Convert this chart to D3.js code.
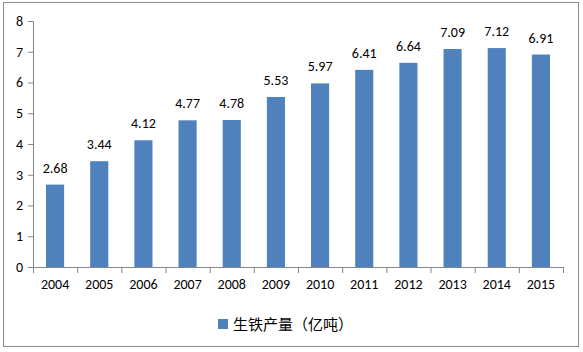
<!DOCTYPE html>
<html>
<head>
<meta charset="utf-8">
<script src="https://cdnjs.cloudflare.com/ajax/libs/d3/7.8.5/d3.min.js"></script>
<style>
  body { margin: 0; background: #fff; }
  svg text { font-family: Calibri, Carlito, Lato, "Noto Sans CJK SC", sans-serif; }
</style>
</head>
<body>
<div id="chart"></div>
<script>
const years = ['2004', '2005', '2006', '2007', '2008', '2009', '2010', '2011', '2012', '2013', '2014', '2015'];
const output = [2.68, 3.44, 4.12, 4.77, 4.78, 5.53, 5.97, 6.41, 6.64, 7.09, 7.12, 6.91];
const yTicks = [0, 1, 2, 3, 4, 5, 6, 7, 8];
const seriesName = '生铁产量（亿吨）';

const W = 583, H = 352;
const margin = {left: 33, right: 20, top: 21, bottom: 85};

const svg = d3.select('#chart').append('svg')
    .attr('width', W)
    .attr('height', H);

// outer frame
svg.append('rect')
    .attr('x', 3.5).attr('y', 2.5)
    .attr('width', 575).attr('height', 344)
    .attr('fill', '#fff')
    .attr('stroke', '#8c8c8c');

const x = d3.scaleBand().domain(years).range([margin.left, W - margin.right]).paddingInner(0.59).paddingOuter(0.295);
const y = d3.scaleLinear().domain([0, 8]).range([H - margin.bottom, margin.top]);

// bars
svg.selectAll('.bar').data(output).join('rect')
    .attr('class', 'bar')
    .attr('x', (d, i) => x(years[i]))
    .attr('y', d => y(d))
    .attr('width', x.bandwidth())
    .attr('height', d => y(0) - y(d))
    .attr('fill', '#4f81bd');

// value labels
svg.selectAll('.val').data(output).join('text')
    .attr('class', 'val')
    .attr('x', (d, i) => x(years[i]) + x.bandwidth() / 2)
    .attr('y', d => y(d) - 12)
    .attr('text-anchor', 'middle')
    .attr('font-size', 14)
    .attr('fill', '#000')
    .text(d => d.toFixed(2));

// y axis
const yAxis = svg.append('g')
    .attr('transform', `translate(${margin.left},0)`)
    .call(d3.axisLeft(y).tickValues(yTicks).tickSize(5).tickPadding(5));
yAxis.selectAll('line, path').attr('stroke', '#868686');
yAxis.selectAll('text').attr('font-size', 14).attr('fill', '#000');

// x axis: ticks at category boundaries
const xg = svg.append('g');
xg.append('line')
    .attr('x1', margin.left).attr('x2', W - margin.right)
    .attr('y1', y(0) + 0.5).attr('y2', y(0) + 0.5)
    .attr('stroke', '#868686');
xg.selectAll('.xt').data(d3.range(years.length + 1)).join('line')
    .attr('x1', i => margin.left + i * (W - margin.right - margin.left) / years.length + 0.5)
    .attr('x2', i => margin.left + i * (W - margin.right - margin.left) / years.length + 0.5)
    .attr('y1', y(0)).attr('y2', y(0) + 6)
    .attr('stroke', '#868686');
xg.selectAll('.xl').data(years).join('text')
    .attr('x', d => x(d) + x.bandwidth() / 2)
    .attr('y', y(0) + 22)
    .attr('text-anchor', 'middle')
    .attr('font-size', 14)
    .attr('fill', '#000')
    .text(d => d);

// legend
const lg = svg.append('g').attr('transform', 'translate(218,319)');
lg.append('rect').attr('width', 10).attr('height', 10).attr('fill', '#4f81bd');
lg.append('text')
    .attr('x', 15).attr('y', 11)
    .attr('font-size', 15)
    .attr('fill', '#000')
    .style('font-family', '"Noto Sans CJK SC", sans-serif')
    .text(seriesName);
</script>
</body>
</html>
